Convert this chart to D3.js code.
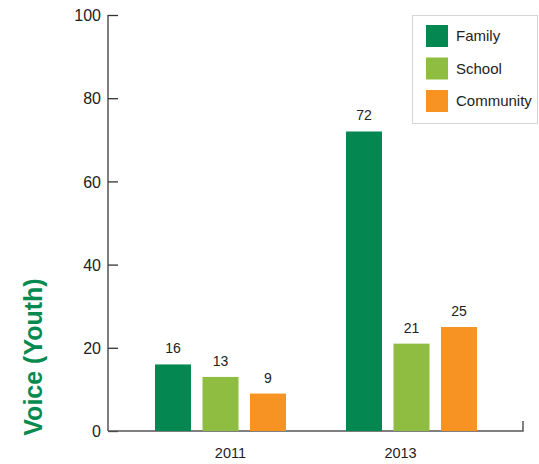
<!DOCTYPE html>
<html>
<head>
<meta charset="utf-8">
<script src="https://cdn.jsdelivr.net/npm/d3@7"></script>
<style>
  html, body { margin: 0; padding: 0; background: #fff; }
  svg { display: block; font-family: "Liberation Sans", Arial, sans-serif; }
</style>
</head>
<body>
<svg id="chart" width="539" height="464"></svg>
<script>
// Youth voice by setting, 2011 vs 2013
const years = ["2011", "2013"];
const series = ["Family", "School", "Community"];
const family = [16, 72];
const school = [13, 21];
const community = [9, 25];
const yTicks = [0, 20, 40, 60, 80, 100];
const colors = ["#048750", "#8fbd41", "#f69322"];

const values = [family, school, community];
const rows = years.map((yr, i) => ({
  year: yr,
  bars: series.map((s, j) => ({ series: s, value: values[j][i], color: colors[j] }))
}));

const svg = d3.select("#chart");
const axisLeft = 108, axisRight = 523, axisBottom = 431, axisTop = 15;

const y = d3.scaleLinear().domain([0, 100]).range([axisBottom, axisTop]);

// bar groups
const x0 = d3.scaleBand().domain(years).range([155, 477]).paddingInner(0.314).paddingOuter(0);
const x1 = d3.scaleBand().domain(series).range([0, x0.bandwidth()]).paddingInner(0.242);
// year labels sit on their own point scale
const xLab = d3.scalePoint().domain(years).range([axisLeft, axisRight]).padding(0.72);

// y axis
const yAxis = d3.axisRight(y).tickValues(yTicks).tickSize(10).tickFormat(d3.format("d"));
const gy = svg.append("g").attr("transform", `translate(${axisLeft},0)`).call(yAxis);
gy.select(".domain").attr("stroke", "#555").attr("stroke-width", 1.5).attr("d", `M0,${axisTop}V${axisBottom}`);
gy.selectAll(".tick line").attr("stroke", "#333").attr("stroke-width", 1.3);
gy.selectAll(".tick text")
  .attr("x", -7).attr("text-anchor", "end").attr("dy", "0.35em")
  .attr("fill", "#222").attr("font-size", 16);

// x axis line with end tick
svg.append("path")
  .attr("d", `M${axisLeft},${axisBottom}H${axisRight}V${axisBottom - 10}`)
  .attr("fill", "none").attr("stroke", "#555").attr("stroke-width", 1.5);

// year labels
svg.append("g").selectAll("text").data(years).join("text")
  .attr("x", d => xLab(d)).attr("y", 458)
  .attr("text-anchor", "middle").attr("font-size", 14.5).attr("fill", "#222")
  .text(d => d);

// bars
const groups = svg.append("g").selectAll("g").data(rows).join("g")
  .attr("transform", d => `translate(${x0(d.year)},0)`);

groups.selectAll("rect").data(d => d.bars).join("rect")
  .attr("x", d => x1(d.series))
  .attr("y", d => y(d.value))
  .attr("width", x1.bandwidth())
  .attr("height", d => y(0) - y(d.value))
  .attr("fill", d => d.color);

groups.selectAll("text").data(d => d.bars).join("text")
  .attr("x", d => x1(d.series) + x1.bandwidth() / 2)
  .attr("y", d => y(d.value) - 11)
  .attr("text-anchor", "middle").attr("font-size", 14).attr("fill", "#222")
  .text(d => d.value);

// y title
svg.append("text")
  .attr("transform", "translate(42,357) rotate(-90)")
  .attr("text-anchor", "middle")
  .attr("font-size", 25).attr("font-weight", "bold").attr("fill", "#078a4f")
  .text("Voice (Youth)");

// legend
const lg = svg.append("g");
lg.append("rect").attr("x", 412.5).attr("y", 15.5).attr("width", 125).attr("height", 108)
  .attr("fill", "#fff").attr("stroke", "#d4d4d4");
const items = lg.selectAll("g").data(series).join("g")
  .attr("transform", (d, i) => `translate(426,${25 + i * 32.5})`);
items.append("rect").attr("width", 22).attr("height", 22).attr("fill", (d, i) => colors[i]);
items.append("text").attr("x", 30).attr("y", 11).attr("dy", "0.35em")
  .attr("font-size", 15).attr("fill", "#222").text(d => d);
</script>
</body>
</html>
